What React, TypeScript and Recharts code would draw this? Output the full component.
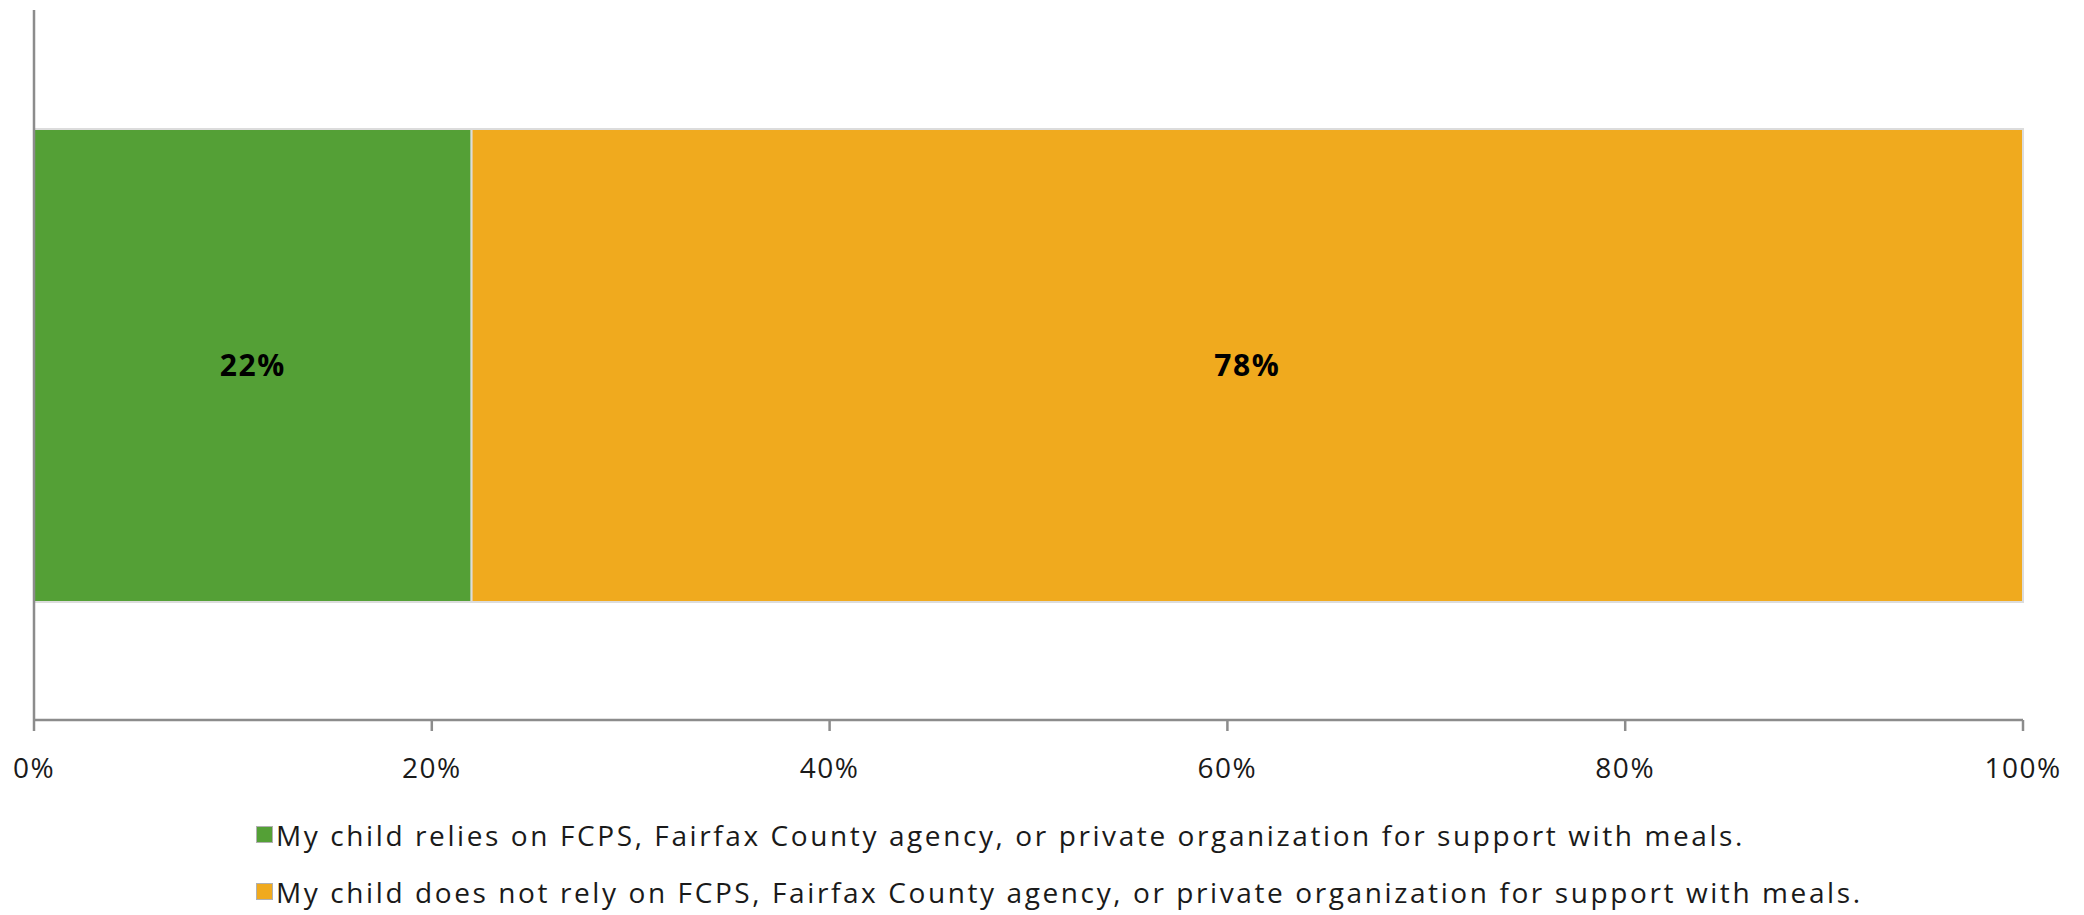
import { BarChart, Bar, XAxis, YAxis, Legend, LabelList } from 'recharts';

const categories = ['Meal support'];
const reliesValues = [22];
const notRelyValues = [78];
const xTicks = [0, 20, 40, 60, 80, 100];

const seriesNames = [
  'My child relies on FCPS, Fairfax County agency, or private organization for support with meals.',
  'My child does not rely on FCPS, Fairfax County agency, or private organization for support with meals.',
];

const GREEN = '#54a036';
const ORANGE = '#f0aa1e';
const AXIS = '#8c8c8c';
const FONT = '"Open Sans", "Noto Sans", sans-serif';
const TEXT = '#1a1a1a';

const data = categories.map((c, i) => ({
  name: c,
  relies: reliesValues[i],
  notRely: notRelyValues[i],
}));

const LegendBox = () => (
  <div style={{ fontFamily: FONT, fontSize: 28, letterSpacing: 2.6, color: TEXT }}>
    {[GREEN, ORANGE].map((col, i) => (
      <div key={i} style={{ display: 'flex', alignItems: 'center', height: 57, whiteSpace: 'nowrap' }}>
        <span
          style={{
            display: 'inline-block', width: 15, height: 15, background: col,
            border: '1px solid #b0b0b0', marginRight: 3,
          }}
        />
        <span>{seriesNames[i]}</span>
      </div>
    ))}
  </div>
);

const labelStyle = { fill: '#000', fontSize: 30, fontWeight: 700, fontFamily: FONT, letterSpacing: 1.5 };

export default function App() {
  return (
    <div style={{ width: 2076, height: 907, position: 'relative', background: '#fff' }}>
      <BarChart
        layout="vertical"
        width={2076}
        height={907}
        data={data}
        margin={{ top: 2, right: 61, left: 25, bottom: 135 }}
      >
        <XAxis
          type="number"
          domain={[0, 100]}
          ticks={xTicks}
          tickFormatter={(v: number) => `${v}%`}
          height={60}
          axisLine={{ stroke: AXIS, strokeWidth: 2.5 }}
          tickLine={{ stroke: AXIS, strokeWidth: 2.5 }}
          tickSize={11}
          tickMargin={27}
          tick={{ fill: TEXT, fontSize: 28, fontFamily: FONT, letterSpacing: 1.5 }}
        />
        <YAxis
          type="category"
          dataKey="name"
          width={1}
          tick={false}
          tickLine={false}
          axisLine={{ stroke: AXIS, strokeWidth: 2.5 }}
        />
        <Legend
          layout="horizontal"
          verticalAlign="middle"
          content={() => <LegendBox />}
          wrapperStyle={{ position: 'absolute', left: 248, top: 798, width: 'auto', height: 'auto' }}
        />
        <Bar dataKey="relies" stackId="a" fill={GREEN} stroke="#dcdcdc" strokeWidth={2} barSize={473} isAnimationActive={false}>
          <LabelList dataKey="relies" position="center" formatter={(v: any) => `${v}%`} style={labelStyle} />
        </Bar>
        <Bar dataKey="notRely" stackId="a" fill={ORANGE} stroke="#dcdcdc" strokeWidth={2} barSize={473} isAnimationActive={false}>
          <LabelList dataKey="notRely" position="center" formatter={(v: any) => `${v}%`} style={labelStyle} />
        </Bar>
      </BarChart>
    </div>
  );
}
